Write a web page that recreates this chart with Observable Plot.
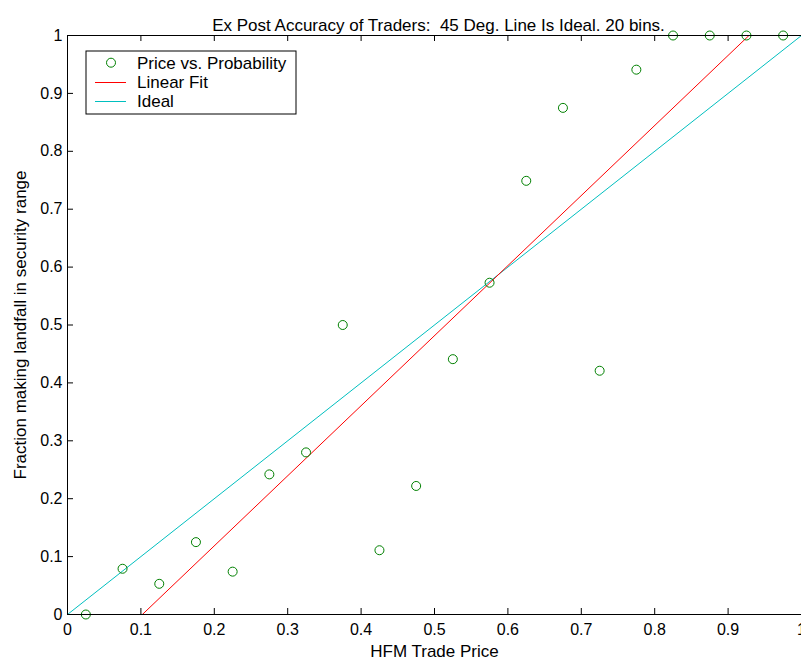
<!DOCTYPE html>
<html>
<head>
<meta charset="utf-8">
<script src="https://cdn.jsdelivr.net/npm/d3@7"></script>
<script src="https://cdn.jsdelivr.net/npm/@observablehq/plot@0.6"></script>
<style>
  html, body { margin: 0; padding: 0; background: #fff; }
  #chart { position: relative; width: 801px; height: 662px; overflow: hidden; }
  svg { font-family: "Liberation Sans", Arial, sans-serif; }
  svg text { white-space: pre; }
</style>
</head>
<body>
<div id="chart"></div>
<script>
// ---- data ----
const binCenters = [0.025, 0.075, 0.125, 0.175, 0.225, 0.275, 0.325, 0.375, 0.425, 0.475,
                    0.525, 0.575, 0.625, 0.675, 0.725, 0.775, 0.825, 0.875, 0.925, 0.975];
const fractions  = [0.000, 0.079, 0.053, 0.125, 0.074, 0.242, 0.280, 0.500, 0.111, 0.222,
                    0.441, 0.573, 0.749, 0.875, 0.421, 0.941, 1.000, 1.000, 1.000, 1.000];
const fitSlope = 1.21;
const fitIntercept = -0.1234;
const axisTicks = [0, 0.1, 0.2, 0.3, 0.4, 0.5, 0.6, 0.7, 0.8, 0.9, 1];
const titleText = "Ex Post Accuracy of Traders:  45 Deg. Line Is Ideal. 20 bins.";
const xLabel = "HFM Trade Price";
const yLabel = "Fraction making landfall in security range";
const legendLabels = ["Price vs. Probability", "Linear Fit", "Ideal"];

const points = binCenters.map((x, i) => ({x, y: fractions[i]}));
const fitLine = [0, 1].map(x => ({x, y: fitIntercept + fitSlope * x}));
const idealLine = [0, 1].map(x => ({x, y: x}));

const GREEN = "#008000", RED = "#ff0000", CYAN = "#00bfbf";
const fmt = d => String(+d.toFixed(1));
const TICK = 6; // inward tick length (px)

const plot = Plot.plot({
  width: 801,
  height: 662,
  marginLeft: 67,
  marginRight: 0,
  marginTop: 35,
  marginBottom: 48,
  style: {fontFamily: "Liberation Sans, Arial, sans-serif", fontSize: "16px", background: "#fff", overflow: "visible"},
  x: {domain: [0, 1]},
  y: {domain: [0, 1]},
  marks: [
    Plot.line(idealLine, {x: "x", y: "y", stroke: CYAN, strokeWidth: 1, clip: true}),
    Plot.line(fitLine, {x: "x", y: "y", stroke: RED, strokeWidth: 1, clip: true}),
    Plot.dot(points, {x: "x", y: "y", r: 4.5, stroke: GREEN, strokeWidth: 1, fill: "none"}),
    // inward ticks: bottom, top, left
    Plot.ruleX(axisTicks, {x: d => d, y1: 0, y2: 0, insetTop: -TICK, stroke: "black"}),
    Plot.ruleX(axisTicks, {x: d => d, y1: 1, y2: 1, insetBottom: -TICK, stroke: "black"}),
    Plot.ruleY(axisTicks, {y: d => d, x1: 0, x2: 0, insetRight: -TICK, stroke: "black"}),
    Plot.frame({stroke: "black", strokeWidth: 1}),
    Plot.axisX(axisTicks, {anchor: "bottom", tickSize: 0, tickPadding: 9, tickFormat: fmt, fontSize: 16,
      label: xLabel, labelAnchor: "center", labelOffset: 42, labelArrow: "none", fill: "black", color: "black"}),
    Plot.axisY(axisTicks, {anchor: "left", tickSize: 0, tickPadding: 5, tickFormat: fmt, fontSize: 16,
      label: yLabel, labelAnchor: "center", labelOffset: 54, labelArrow: "none", fill: "black", color: "black"}),
    Plot.text([titleText], {frameAnchor: "top", dx: 4, dy: -17, fontSize: 17, fill: "black"})
  ]
});

document.getElementById("chart").appendChild(plot);

// axis titles at 17px
d3.select(plot).selectAll("g[aria-label='x-axis label'], g[aria-label='y-axis label']")
  .attr("font-size", 17);
d3.select(plot).selectAll("g[aria-label='x-axis label'] text, g[aria-label='y-axis label'] text")
  .attr("font-size", 17);

// ---- legend (inside the axes, upper left) ----
const svg = d3.select(plot);
const lg = svg.append("g").attr("font-size", 17).attr("text-anchor", "start")
  .attr("font-family", "Liberation Sans, Arial, sans-serif");
lg.append("rect").attr("x", 86).attr("y", 51).attr("width", 210).attr("height", 63)
  .attr("fill", "white").attr("stroke", "black");
const rows = [62.7, 82.5, 101.5];
lg.append("circle").attr("cx", 111).attr("cy", rows[0]).attr("r", 4.5)
  .attr("fill", "none").attr("stroke", GREEN);
lg.append("line").attr("x1", 95).attr("x2", 126).attr("y1", rows[1]).attr("y2", rows[1]).attr("stroke", RED);
lg.append("line").attr("x1", 95).attr("x2", 126).attr("y1", rows[2]).attr("y2", rows[2]).attr("stroke", CYAN);
legendLabels.forEach((t, i) => {
  lg.append("text").attr("x", 137).attr("y", rows[i]).attr("dy", "0.35em")
    .attr("text-anchor", "start").attr("fill", "black").text(t);
});
</script>
</body>
</html>
